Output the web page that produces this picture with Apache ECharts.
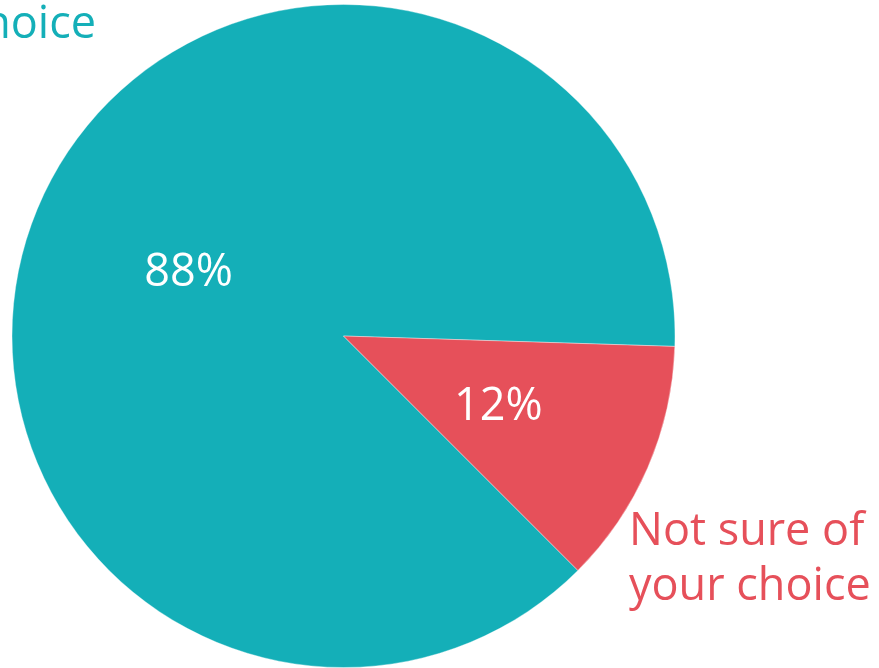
<!DOCTYPE html>
<html>
<head>
<meta charset="utf-8">
<style>
  html, body { margin: 0; padding: 0; background: #ffffff; }
  #chart { width: 879px; height: 668px; }
</style>
<script src="https://cdn.jsdelivr.net/npm/echarts@6/dist/echarts.min.js"></script>
</head>
<body>
<div id="chart"></div>
<script>
// Share of respondents by confidence in their choice
const categories = ['Sure of\nyour choice', 'Not sure of\nyour choice'];
const shares = [88, 12];
const sliceColors = ['#14AFB8', '#E6505A'];

const FONT = '"Open Sans", "Noto Sans", sans-serif';
const CENTER = [343.5, 336];
const RADIUS = 331.5;

const chart = echarts.init(document.getElementById('chart'), null, { renderer: 'canvas' });

const pieData = categories.map((name, i) => ({
  name: name,
  value: shares[i],
  itemStyle: { color: sliceColors[i] }
}));

// Category names sit outside the pie, next to their slices
const nameData = categories.map((name, i) => ({
  name: name,
  value: shares[i],
  itemStyle: { color: 'rgba(0,0,0,0)' },
  label: { color: sliceColors[i] }
}));

const namePlacement = [
  { x: 96, y: -2, align: 'right', verticalAlign: 'middle' },
  { x: 629, y: 560, align: 'left', verticalAlign: 'middle' }
];

chart.setOption({
  animation: false,
  backgroundColor: '#ffffff',
  series: [
    {
      type: 'pie',
      center: CENTER,
      radius: RADIUS,
      startAngle: 315,
      clockwise: true,
      avoidLabelOverlap: false,
      itemStyle: { borderColor: 'rgba(255,255,255,0.6)', borderWidth: 0.6 },
      label: {
        show: true,
        position: 'inside',
        formatter: '{c}%',
        color: '#ffffff',
        fontFamily: FONT,
        fontSize: 45
      },
      labelLayout: { dy: 4 },
      labelLine: { show: false },
      emphasis: { disabled: true },
      data: pieData
    },
    {
      type: 'pie',
      center: CENTER,
      radius: RADIUS,
      startAngle: 315,
      clockwise: true,
      silent: true,
      z: 3,
      avoidLabelOverlap: false,
      label: {
        show: true,
        position: 'outside',
        formatter: '{b}',
        fontFamily: FONT,
        fontSize: 45,
        lineHeight: 55
      },
      labelLine: { show: false },
      labelLayout: function (params) {
        return namePlacement[params.dataIndex];
      },
      emphasis: { disabled: true },
      data: nameData
    }
  ]
});
</script>
</body>
</html>
